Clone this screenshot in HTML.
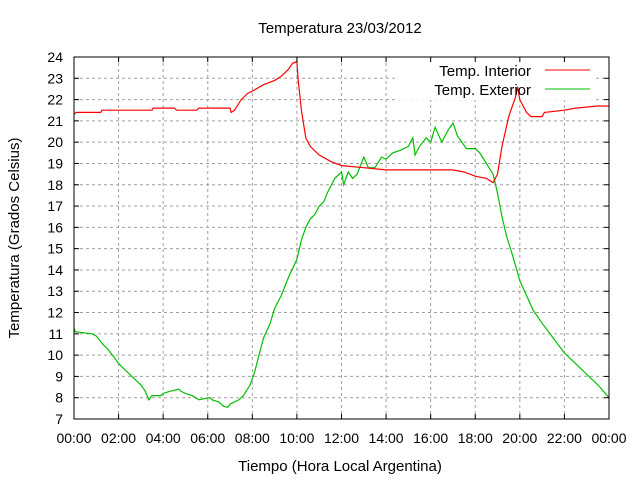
<!DOCTYPE html>
<html><head><meta charset="utf-8"><style>
html,body{margin:0;padding:0;background:#fff;}
svg{display:block;font-family:"Liberation Sans",sans-serif;}
</style></head><body>
<svg id="chart" width="640" height="480" viewBox="0 0 640 480" xmlns="http://www.w3.org/2000/svg">
<rect width="640" height="480" fill="#fff"/>
<g id="grid"></g>
<rect x="398" y="58" width="198" height="42" fill="#fff"/>
<g id="series"></g>
<rect x="74" y="57" width="535" height="362" fill="none" stroke="#000" stroke-width="1"/>
<g id="ticks"></g>
<text x="340" y="33" text-anchor="middle" font-size="15">Temperatura 23/03/2012</text>
<text x="340" y="471" text-anchor="middle" font-size="15">Tiempo (Hora Local Argentina)</text>
<text transform="translate(19,238) rotate(-90)" text-anchor="middle" font-size="15">Temperatura (Grados Celsius)</text>
<g>
<text x="531" y="76" text-anchor="end" font-size="15">Temp. Interior</text>
<line x1="545" y1="70" x2="590" y2="70" stroke="#ff0000"/>
<text x="531" y="95" text-anchor="end" font-size="15">Temp. Exterior</text>
<line x1="545" y1="89" x2="590" y2="89" stroke="#00c000"/>
</g>
</svg>
<script>
const xTickLabels = ["00:00","02:00","04:00","06:00","08:00","10:00","12:00","14:00","16:00","18:00","20:00","22:00","00:00"];
const yTicks = [7,8,9,10,11,12,13,14,15,16,17,18,19,20,21,22,23,24];
const interiorHours = [0,0.1,1.2,1.25,3.5,3.55,4.5,4.6,5.5,5.6,7.0,7.05,7.2,7.5,7.8,8.0,8.5,9.0,9.3,9.6,9.8,10.0,10.05,10.2,10.4,10.6,11,11.5,12,13,14,15,17,17.5,18,18.5,18.8,19.0,19.2,19.5,19.8,19.9,20.0,20.3,20.5,21.0,21.1,22,22.5,23.5,24];
const interiorTemps = [21.3,21.4,21.4,21.5,21.5,21.6,21.6,21.5,21.5,21.6,21.6,21.4,21.5,22.0,22.3,22.4,22.7,22.9,23.1,23.4,23.7,23.8,23.0,21.5,20.2,19.8,19.4,19.1,18.9,18.8,18.7,18.7,18.7,18.6,18.4,18.3,18.1,18.5,19.8,21.2,22.1,22.6,22.0,21.4,21.2,21.2,21.4,21.5,21.6,21.7,21.7];
const exteriorHours = [0,0.05,0.8,1.0,1.3,1.5,1.8,2.0,2.2,2.5,2.8,3.0,3.2,3.35,3.5,3.9,4.0,4.3,4.7,4.8,5.0,5.3,5.6,6.1,6.2,6.5,6.7,6.9,7.0,7.4,7.6,7.9,8.1,8.3,8.5,8.8,9.0,9.3,9.6,10.0,10.2,10.4,10.6,10.8,11.0,11.2,11.4,11.7,12.0,12.1,12.3,12.5,12.7,13.0,13.2,13.5,13.8,14.0,14.3,14.6,15.0,15.2,15.3,15.5,15.8,16.0,16.2,16.5,16.8,17.0,17.2,17.4,17.6,18.0,18.2,18.5,18.8,19.0,19.2,19.4,19.7,20.0,20.3,20.6,21,21.5,22,22.5,23,23.5,24];
const exteriorTemps = [11.3,11.1,11.0,10.9,10.5,10.3,9.9,9.6,9.4,9.1,8.8,8.6,8.3,7.9,8.1,8.1,8.2,8.3,8.4,8.3,8.2,8.1,7.9,8.0,7.9,7.8,7.6,7.55,7.7,7.9,8.1,8.6,9.2,10.0,10.8,11.5,12.2,12.8,13.6,14.5,15.4,16.0,16.4,16.6,17.0,17.2,17.7,18.3,18.6,18.0,18.6,18.3,18.5,19.3,18.8,18.8,19.3,19.2,19.5,19.6,19.8,20.2,19.4,19.8,20.2,20.0,20.7,20.0,20.6,20.9,20.3,20.0,19.7,19.7,19.5,19.0,18.5,17.6,16.5,15.6,14.6,13.5,12.8,12.1,11.5,10.8,10.1,9.6,9.1,8.6,8.0];

const NS = "http://www.w3.org/2000/svg";
const L = 74, R = 609, T = 57, B = 419;
const xScale = h => L + (R - L) * h / 24;
const yScale = v => B - (B - T) * (v - 7) / 17;

const grid = document.getElementById('grid');
const ticks = document.getElementById('ticks');
function mk(tag, attrs, parent){ const e = document.createElementNS(NS, tag); for (const k in attrs) e.setAttribute(k, attrs[k]); parent.appendChild(e); return e; }

xTickLabels.forEach((lab, i) => {
  const x = xScale(i * 2);
  if (i > 0 && i < xTickLabels.length - 1) {
    const g = mk('line', {x1:x, y1:T, x2:x, y2:B, stroke:'#a0a0a0', 'stroke-dasharray':'3,3'}, grid);
    
    
  }
  const t = mk('text', {x:x, y:443, 'text-anchor':'middle', 'font-size':'14'}, ticks);
  t.textContent = lab;
  
  
  const tm = mk('line', {x1:x, y1:B, x2:x, y2:B-5, stroke:'#000'}, ticks);
  
  
  const tm2 = mk('line', {x1:x, y1:T, x2:x, y2:T+5, stroke:'#000'}, ticks);
  
  
});
yTicks.forEach(v => {
  const y = yScale(v);
  if (v > 7 && v < 24) {
    const g = mk('line', {x1:L, y1:y, x2:R, y2:y, stroke:'#a0a0a0', 'stroke-dasharray':'3,3'}, grid);
    
    
  }
  const t = mk('text', {x:63, y:y+5, 'text-anchor':'end', 'font-size':'14'}, ticks);
  t.textContent = v;
  
  
  const tm = mk('line', {x1:L, y1:y, x2:L+5, y2:y, stroke:'#000'}, ticks);
  
  
  const tm2 = mk('line', {x1:R, y1:y, x2:R-5, y2:y, stroke:'#000'}, ticks);
  
  
});

const series = document.getElementById('series');
function drawLine(hours, temps, color, name){
  const pts = hours.map((h, i) => xScale(h).toFixed(1) + ',' + yScale(temps[i]).toFixed(1)).join(' ');
  const p = mk('polyline', {points:pts, fill:'none', stroke:color, 'stroke-width':'1.2'}, series);
  
  
}
drawLine(exteriorHours, exteriorTemps, '#00c000', 'exterior-temperature-line');
drawLine(interiorHours, interiorTemps, '#ff0000', 'interior-temperature-line');
</script>
</body></html>
